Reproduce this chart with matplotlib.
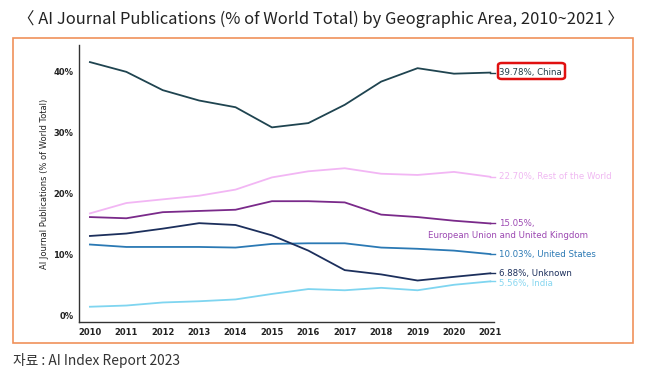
import matplotlib
matplotlib.use("Agg")
import matplotlib.pyplot as plt
from matplotlib.patches import Rectangle, FancyBboxPatch

years = list(range(2010, 2022))
china = [41.5, 39.9, 36.9, 35.2, 34.1, 30.8, 31.5, 34.5, 38.3, 40.5, 39.6, 39.78]
rest_world = [16.7, 18.4, 19.0, 19.6, 20.6, 22.6, 23.6, 24.1, 23.2, 23.0, 23.5, 22.70]
eu_uk = [16.1, 15.9, 16.9, 17.1, 17.3, 18.7, 18.7, 18.5, 16.5, 16.1, 15.5, 15.05]
unknown = [13.0, 13.4, 14.2, 15.1, 14.8, 13.1, 10.6, 7.4, 6.7, 5.7, 6.3, 6.88]
us = [11.6, 11.2, 11.2, 11.2, 11.1, 11.7, 11.8, 11.8, 11.1, 10.9, 10.6, 10.03]
india = [1.4, 1.6, 2.1, 2.3, 2.6, 3.5, 4.3, 4.1, 4.5, 4.1, 5.0, 5.56]
yticks = [0, 10, 20, 30, 40]
ytick_labels = ["0%", "10%", "20%", "30%", "40%"]

series = [
    ("China", china, "#1f4450", "#1f3a45"),
    ("Rest of the World", rest_world, "#f2b6f4", "#f0b8f2"),
    ("European Union and United Kingdom", eu_uk, "#7a2a8a", "#9c48b2"),
    ("United States", us, "#2b79b4", "#2b79b4"),
    ("Unknown", unknown, "#1c2f5c", "#1c2f5c"),
    ("India", india, "#7fd5f0", "#86d6f0"),
]

W, H = 648, 387
fig = plt.figure(figsize=(W / 100, H / 100), dpi=100)
fig.patch.set_facecolor("white")

def fx(px):
    return px / W

def fy(py):
    return 1 - py / H

# orange frame
fig.patches.append(Rectangle((fx(13), fy(343)), fx(633) - fx(13), fy(38) - fy(343),
                             transform=fig.transFigure, fill=False,
                             edgecolor="#f0915a", linewidth=1.2))

fig.text(fx(321), fy(19), "〈 AI Journal Publications (% of World Total) by Geographic Area, 2010~2021 〉",
         ha="center", va="center", fontsize=11.9, color="#222222",
         family=["Noto Sans CJK KR", "DejaVu Sans"])
fig.text(fx(13), fy(361), "자료 : AI Index Report 2023", ha="left", va="center",
         fontsize=9.9, color="#333333", family=["Noto Sans CJK KR", "DejaVu Sans"])

ax = fig.add_axes([fx(79), fy(322), fx(494) - fx(79), fy(45) - fy(322)])
ax.set_xlim(2009.7, 2021.1)
ax.set_ylim(-1.1, 44.3)

for name, vals, c, tc in series:
    ax.plot(years, vals, color=c, linewidth=1.3, solid_joinstyle="round")
    # short connector stub toward the end label
    ax.plot([years[-1], years[-1] + 0.12], [vals[-1], vals[-1]], color=c,
            linewidth=1.0, clip_on=False)

for s in ["top", "right"]:
    ax.spines[s].set_visible(False)
for s in ["left", "bottom"]:
    ax.spines[s].set_color("#333333")
    ax.spines[s].set_linewidth(1.0)

ax.set_xticks(years)
ax.set_xticklabels([str(y) for y in years], fontsize=6, color="#222222", fontweight="bold")
ax.set_yticks(yticks)
ax.set_yticklabels(ytick_labels, fontsize=6, color="#222222", fontweight="bold")
ax.tick_params(axis="both", length=0, pad=4)
ax.set_ylabel("AI Journal Publications (% of World Total)", fontsize=6, color="#222222", labelpad=3)

fs = 6.2
xl = 2021.25
ax.text(xl, china[-1], f"{china[-1]:.2f}%, China", fontsize=fs, color=series[0][3],
        ha="left", va="center", clip_on=False)
ax.text(xl, rest_world[-1], f"{rest_world[-1]:.2f}%, Rest of the World", fontsize=fs,
        color=series[1][3], ha="left", va="center", clip_on=False)
ax.text(xl, eu_uk[-1], f"{eu_uk[-1]:.2f}%,", fontsize=fs, color=series[2][3],
        ha="left", va="center", clip_on=False)
ax.text(2019.3, eu_uk[-1] - 2.0, "European Union and United Kingdom", fontsize=fs,
        color=series[2][3], ha="left", va="center", clip_on=False)
ax.text(xl, us[-1], f"{us[-1]:.2f}%, United States", fontsize=fs, color=series[3][3],
        ha="left", va="center", clip_on=False)
ax.text(xl, unknown[-1], f"{unknown[-1]:.2f}%, Unknown", fontsize=fs, color=series[4][3],
        ha="left", va="center", clip_on=False)
ax.text(xl, india[-1] - 0.3, f"{india[-1]:.2f}%, India", fontsize=fs, color=series[5][3],
        ha="left", va="center", clip_on=False)

# red highlight box around China label
fig.patches.append(FancyBboxPatch((fx(498), fy(79)), fx(565) - fx(498), fy(63) - fy(79),
                                  boxstyle="round,pad=0,rounding_size=0.006",
                                  transform=fig.transFigure, fill=False,
                                  edgecolor="#e01010", linewidth=1.8))

fig.savefig("out.png", dpi=100, facecolor="white")
